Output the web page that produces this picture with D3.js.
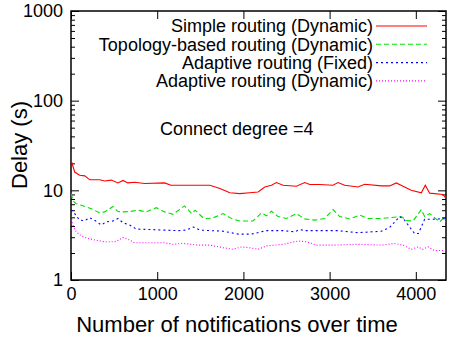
<!DOCTYPE html>
<html>
<head>
<meta charset="utf-8">
<script src="https://cdn.jsdelivr.net/npm/d3@7"></script>
<style>
  body { margin: 0; background: #fff; }
  text { font-family: "Liberation Sans", Arial, sans-serif; fill: #000; }
</style>
</head>
<body>
<div id="chart"></div>
<script>
// series values as [notifications, delay]
var simpleDyn = [[0,27],[5,21],[43,16],[100,14.7],[160,14.5],[217,13.1],[333,13.1],[390,12.7],[467,13],[545,12.1],
  [603,12.9],[660,12.1],[738,12.3],[854,11.9],[1086,12.1],[1159,11.4],[1300,11.4],[1472,11.4],[1611,11.4],[1727,10.5],
  [1842,9.4],[1958,9.2],[2074,9.4],[2170,9.6],[2248,10.9],[2325,11.4],[2383,12.2],[2460,11.4],[2615,11.1],[2711,12.2],
  [2770,11.6],[2885,11.6],[3040,11.4],[3097,12.2],[3175,11.4],[3329,10.9],[3407,11.7],[3600,11.2],[3696,11.2],[3774,12.1],
  [3851,11.1],[3947,10],[4064,9.4],[4110,11.4],[4160,9.3],[4314,9],[4350,8.1]];
var topoDyn = [[0,9.2],[30,7.5],[61,7.1],[119,6.8],[235,6.25],[333,5.6],[390,5.75],[487,6.6],[545,5.8],[603,5.75],
  [680,5.8],[776,6.0],[873,5.75],[989,6.4],[1086,5.75],[1182,5.4],[1317,6.7],[1400,5.5],[1440,6.0],[1540,4.85],
  [1640,4.9],[1765,5.5],[1820,5.1],[1881,4.75],[1958,4.55],[2112,4.55],[2209,5.6],[2268,5.2],[2325,5.85],[2402,5.1],
  [2499,4.85],[2615,5.5],[2711,4.8],[2827,4.65],[2943,4.85],[3040,6.1],[3117,5.1],[3233,4.8],[3349,5.3],[3445,4.85],
  [3600,4.85],[3832,5.1],[3890,4.6],[3967,4.55],[4064,6.1],[4102,5.1],[4160,5.5],[4276,4.45],[4314,4.85],[4350,4.45]];
var adaptFixed = [[0,6.1],[43,5.5],[100,4.65],[160,4.6],[217,4.95],[280,4.6],[351,4.1],[409,4.45],[487,4.55],[545,4.85],
  [603,4.35],[680,4.1],[757,3.7],[931,3.65],[1086,3.6],[1240,3.55],[1336,3.6],[1420,3.9],[1495,3.6],[1765,3.5],
  [1939,3.25],[2094,3.25],[2268,3.55],[2460,3.55],[2596,3.45],[2653,3.65],[2720,3.55],[2885,3.55],[3097,3.55],[3329,3.37],
  [3600,3.5],[3696,3.85],[3812,5.1],[3870,4.65],[3928,3.9],[3986,3.3],[4030,3.3],[4102,4.75],[4180,4.75],[4350,4.85]];
var adaptDyn = [[0,5.1],[20,4.1],[61,3.45],[119,3.1],[197,2.9],[274,2.8],[390,2.67],[506,2.67],[560,2.8],[603,2.98],
  [660,2.85],[738,2.6],[970,2.6],[1086,2.6],[1182,2.5],[1298,2.56],[1472,2.45],[1611,2.45],[1765,2.29],[1881,2.2],
  [1978,2.34],[2074,2.29],[2170,2.2],[2268,2.4],[2460,2.5],[2634,2.72],[2731,2.67],[2847,2.45],[3059,2.45],[3329,2.5],
  [3600,2.45],[3754,2.55],[3850,2.45],[3947,2.2],[4025,2.34],[4083,2.2],[4141,2.34],[4218,2.13],[4350,2.13]];

var seriesNames = ["Simple routing (Dynamic)", "Topology-based routing (Dynamic)",
                   "Adaptive routing (Fixed)", "Adaptive routing (Dynamic)"];
var xTicks = [0, 1000, 2000, 3000, 4000];
var yTicks = [1, 10, 100, 1000];

var width = 453, height = 337;
var margin = {"left": 71, "right": 7, "top": 11, "bottom": 57};
var fontSize = 18;
var titleSize = 22;

var svg = d3.select("#chart").append("svg")
            .attr("width", width)
            .attr("height", height);

var xScale = d3.scaleLinear()
               .domain([0, 4350])
               .range([margin.left, width - margin.right]);
var yScale = d3.scaleLog()
               .domain([1, 1000])
               .range([height - margin.bottom, margin.top]);

// minor ticks for the log axis: 2..9 in each decade
var yMinor = [];
yTicks.slice(0, -1).forEach(function(d) {
  for (var k = 2; k < 10; k++) yMinor.push(d * k);
});

var x0 = xScale.range()[0], x1 = xScale.range()[1];
var y0 = yScale.range()[0], y1 = yScale.range()[1];

function styleAxis(g) {
  g.select(".domain").remove();
  g.selectAll("line").attr("stroke", "#000").attr("stroke-width", 1);
  g.selectAll("text").style("font-size", fontSize + "px")
                     .style("font-family", "'Liberation Sans', Arial, sans-serif");
}

// bottom + top
svg.append("g").attr("transform", "translate(0," + y0 + ")")
   .call(d3.axisBottom(xScale).tickValues(xTicks).tickSize(-8).tickPadding(7).tickFormat(d3.format("d")))
   .call(styleAxis);
svg.append("g").attr("transform", "translate(0," + y1 + ")")
   .call(d3.axisTop(xScale).tickValues(xTicks).tickSize(-8).tickFormat(""))
   .call(styleAxis);

// left + right, majors and minors
svg.append("g").attr("transform", "translate(" + x0 + ",0)")
   .call(d3.axisLeft(yScale).tickValues(yTicks).tickSize(-8).tickPadding(8).tickFormat(d3.format("d")))
   .call(styleAxis);
svg.append("g").attr("transform", "translate(" + x0 + ",0)")
   .call(d3.axisLeft(yScale).tickValues(yMinor).tickSize(-4).tickFormat(""))
   .call(styleAxis);
svg.append("g").attr("transform", "translate(" + x1 + ",0)")
   .call(d3.axisRight(yScale).tickValues(yTicks).tickSize(-8).tickFormat(""))
   .call(styleAxis);
svg.append("g").attr("transform", "translate(" + x1 + ",0)")
   .call(d3.axisRight(yScale).tickValues(yMinor).tickSize(-4).tickFormat(""))
   .call(styleAxis);

// border
svg.append("rect")
   .attr("x", x0).attr("y", y1)
   .attr("width", x1 - x0).attr("height", y0 - y1)
   .attr("fill", "none").attr("stroke", "#000").attr("stroke-width", 1.5);

var line = d3.line()
             .x(function(d) { return xScale(d[0]); })
             .y(function(d) { return yScale(d[1]); });

var styles = [
  {data: simpleDyn,  color: "#ff0000", dash: null},
  {data: topoDyn,    color: "#00e000", dash: "5,3"},
  {data: adaptFixed, color: "#0000ff", dash: "2,3"},
  {data: adaptDyn,   color: "#ff00ff", dash: "1,2"}
];

svg.append("defs").append("clipPath").attr("id", "plotclip")
   .append("rect").attr("x", x0).attr("y", y1).attr("width", x1 - x0).attr("height", y0 - y1);

var plot = svg.append("g").attr("clip-path", "url(#plotclip)");
styles.forEach(function(s) {
  plot.append("path")
      .datum(s.data)
      .attr("d", line)
      .attr("fill", "none")
      .attr("stroke", s.color)
      .attr("stroke-width", 1.1)
      .attr("stroke-dasharray", s.dash);
});

// legend, gnuplot style: text right-aligned then a sample line
var legend = svg.append("g");
styles.forEach(function(s, i) {
  var ly = 26 + i * 18.3;
  legend.append("text")
        .attr("x", 373)
        .attr("y", ly)
        .attr("dy", "0.35em")
        .attr("text-anchor", "end")
        .style("font-size", fontSize + "px")
        .text(seriesNames[i]);
  legend.append("line")
        .attr("x1", 376).attr("x2", 427)
        .attr("y1", ly).attr("y2", ly)
        .attr("stroke", s.color)
        .attr("stroke-width", 1.1)
        .attr("stroke-dasharray", s.dash);
});

svg.append("text")
   .attr("x", 160).attr("y", 129)
   .attr("dy", "0.35em")
   .style("font-size", fontSize + "px")
   .text("Connect degree =4");

// axis titles
svg.append("text")
   .attr("x", 237).attr("y", 332)
   .attr("text-anchor", "middle")
   .style("font-size", titleSize + "px")
   .text("Number of notifications over time");
svg.append("text")
   .attr("transform", "translate(27,145) rotate(-90)")
   .attr("text-anchor", "middle")
   .style("font-size", titleSize + "px")
   .text("Delay (s)");
</script>
</body>
</html>
